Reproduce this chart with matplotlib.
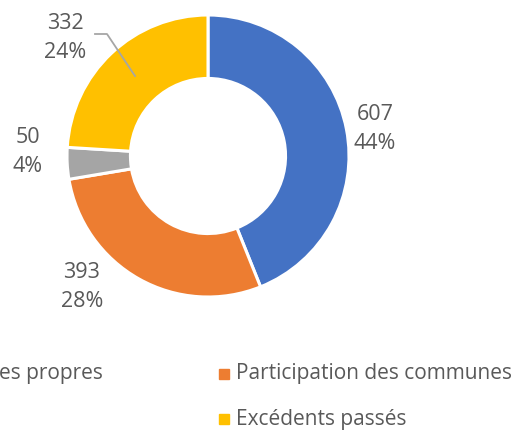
import matplotlib
matplotlib.use("Agg")
import matplotlib.pyplot as plt
from matplotlib.patches import Rectangle

categories = ["Ressources propres", "Participation des communes", "Subventions", "Excédents passés"]
values = [607, 393, 50, 332]
colors = ["#4472C4", "#ED7D31", "#A5A5A5", "#FFC000"]
# legend texts as visible in the (cropped) reference picture
legend_texts = ["es propres", "Participation des communes", "Excédents passés"]
legend_colors = [None, "#ED7D31", "#FFC000"]

W, H = 519, 430
fig = plt.figure(figsize=(W / 100, H / 100), dpi=100)
ax = fig.add_axes([0, 0, 1, 1])
ax.axis("off")

FONT = "Open Sans"
TXT = "#595959"

cx, cy, R = 208, H - 156, 141
ax.pie(values, colors=colors, startangle=90, counterclock=False,
       center=(cx, cy), radius=R,
       wedgeprops=dict(width=R * 0.45, edgecolor="white", linewidth=2.2))
ax.set_xlim(0, W)
ax.set_ylim(0, H)
ax.set_aspect("equal")

total = sum(values)
label_pos = [(375, 129), (82, 287), (28, 152), (65, 38)]
for v, (x, y) in zip(values, label_pos):
    ax.text(x, H - y, f"{v}\n{round(v / total * 100)}%", ha="center", va="center",
            fontsize=15.5, color=TXT, family=FONT, linespacing=1.5)

# leader line for the yellow label
ax.plot([95, 107, 135], [H - 34, H - 34, H - 76], color="#A6A6A6", lw=1.3)

# legend (left column cropped in the reference)
positions = [(-18, 374), (219, 374), (219, 419)]
for txt, col, (x, y) in zip(legend_texts, legend_colors, positions):
    if col is not None:
        ax.add_patch(Rectangle((x, H - y - 5), 10, 10, color=col))
    ax.text(x + 17, H - y, txt, ha="left", va="center", fontsize=15, color=TXT, family=FONT)

fig.savefig("out.png", dpi=100)
